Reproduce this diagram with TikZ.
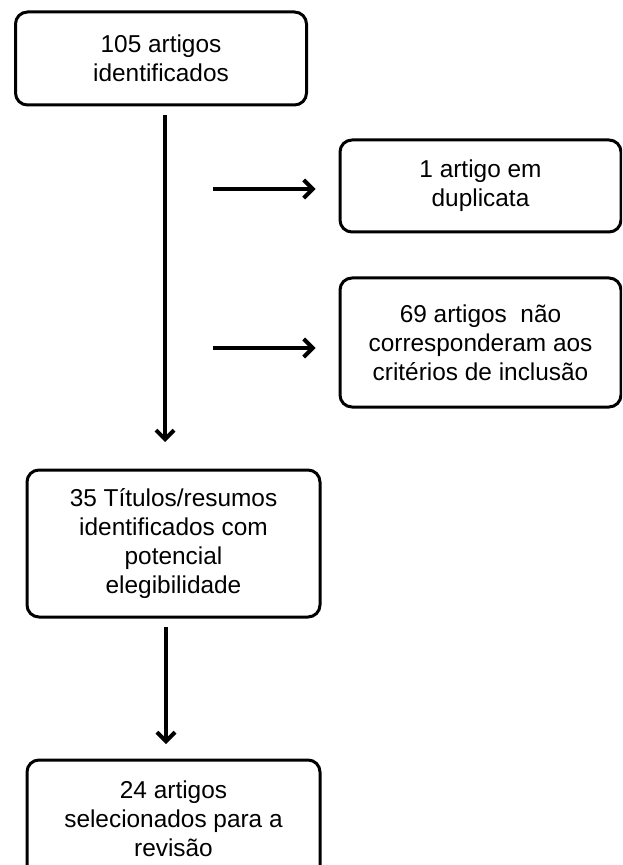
\documentclass[tikz,border=0pt]{standalone}
\usepackage{fontspec}
\setmainfont{Liberation Sans}
\usetikzlibrary{arrows.meta}
\tikzset{
	box/.style={draw, line width=1.5pt, rounded corners=6pt, align=center, inner sep=0pt,
		font=\fontsize{12.2}{14.5}\selectfont},
	flow/.style={line width=2pt, -{Straight Barb[length=4.5pt, width=9pt, line width=2pt]}}
}
\begin{document}
\begin{tikzpicture}[x=0.5pt, y=-0.5pt]
		\useasboundingbox (0,0) rectangle (622,865);
		\clip (0,0) rectangle (622,865);
		\node[box, minimum width=145.5pt, minimum height=46.5pt] (ident) at (161,58.5) {105 artigos\\identificados};
		\node[box, minimum width=140.5pt, minimum height=46pt] (dup) at (480.5,186) {1 artigo em\\duplicata};
		\node[box, minimum width=140.5pt, minimum height=64.5pt] (excl) at (480.5,342.5) {69 artigos\ \ não\\corresponderam aos\\critérios de inclusão};
		\node[box, minimum width=146.5pt, minimum height=73.5pt] (tit) at (173.5,543.5) {35 Títulos/resumos\\identificados com\\potencial\\elegibilidade};
		\node[box, minimum width=146.5pt, minimum height=59pt] (sel) at (173.5,819) {24 artigos\\selecionados para a\\revisão};
		\coordinate (a) at (165,115);
		\coordinate (b) at (165,442);
		\coordinate (c) at (213,189);
		\coordinate (d) at (213,348);
		\coordinate (e) at (166,627);
		\coordinate (f) at (166,744);
		\draw[flow] (a) -- (b);
		\draw[flow, shorten >=11.5pt] (c) -- (dup.west |- c);
		\draw[flow, shorten >=11.5pt] (d) -- (excl.west |- d);
		\draw[flow] (e) -- (f);
	\end{tikzpicture}
\end{document}
